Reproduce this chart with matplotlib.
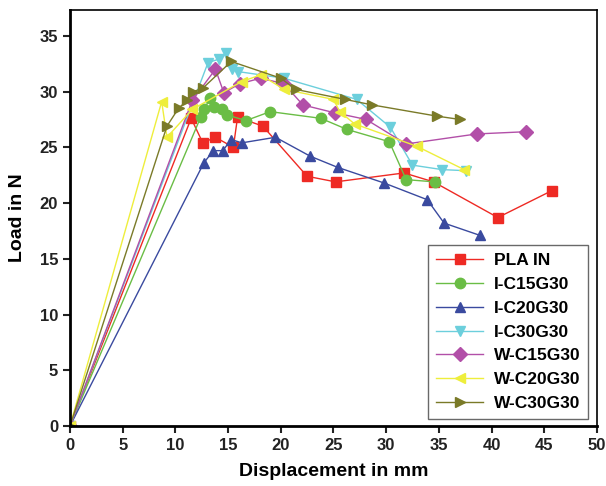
import matplotlib.pyplot as plt

plt.rcParams['font.family'] = ['Liberation Sans', 'DejaVu Sans']
plt.rcParams['font.weight'] = 'bold'

# (displacement mm, load N)
plain_x = [0, 11.5, 12.6, 13.8, 15.5, 15.9, 18.3, 22.5, 25.2, 31.7, 34.5, 40.6, 45.7]
plain_y = [0, 27.6, 25.4, 25.9, 25.0, 27.7, 26.9, 22.4, 21.9, 22.7, 21.9, 18.7, 21.1]

ic15_x = [0, 12.4, 12.7, 13.3, 13.7, 14.4, 14.9, 16.7, 19.0, 23.8, 26.3, 30.3, 31.9, 34.6]
ic15_y = [0, 27.7, 28.4, 29.4, 28.6, 28.4, 27.9, 27.4, 28.2, 27.6, 26.6, 25.5, 22.1, 21.9]

ic20_x = [0, 12.7, 13.6, 14.5, 15.3, 16.3, 19.5, 22.8, 25.4, 29.8, 33.9, 35.5, 38.9]
ic20_y = [0, 23.6, 24.7, 24.7, 25.7, 25.4, 25.9, 24.2, 23.2, 21.8, 20.3, 18.2, 17.1]

ic30_x = [0, 13.1, 14.1, 14.8, 15.4, 15.9, 20.3, 27.2, 30.4, 32.5, 35.3, 37.6]
ic30_y = [0, 32.6, 32.9, 33.5, 32.0, 31.8, 31.2, 29.3, 26.8, 23.4, 23.0, 22.9]

wc15_x = [0, 11.6, 13.8, 14.6, 16.1, 18.1, 20.3, 22.1, 25.1, 28.1, 31.9, 38.6, 43.3]
wc15_y = [0, 29.2, 32.0, 29.9, 30.7, 31.2, 30.7, 28.8, 28.1, 27.5, 25.3, 26.2, 26.4]

wc20_x = [0, 8.7, 9.2, 11.6, 16.3, 18.1, 20.3, 25.0, 25.6, 27.0, 32.9, 37.4]
wc20_y = [0, 29.1, 25.9, 28.4, 30.9, 31.5, 30.2, 29.3, 28.2, 27.1, 25.1, 23.0]

wc30_x = [0, 9.2, 10.3, 11.1, 11.7, 12.6, 15.3, 20.0, 21.4, 26.1, 28.7, 34.8, 37.0]
wc30_y = [0, 26.9, 28.5, 29.2, 30.0, 30.3, 32.7, 31.2, 30.2, 29.3, 28.8, 27.8, 27.5]

series = [
    (plain_x, plain_y, 'PLA IN', '#ee2a24', 's'),
    (ic15_x, ic15_y, 'I-C15G30', '#6abd45', 'o'),
    (ic20_x, ic20_y, 'I-C20G30', '#3a4a9f', '^'),
    (ic30_x, ic30_y, 'I-C30G30', '#6ccfdc', 'v'),
    (wc15_x, wc15_y, 'W-C15G30', '#b24fa8', 'D'),
    (wc20_x, wc20_y, 'W-C20G30', '#eeee3c', '<'),
    (wc30_x, wc30_y, 'W-C30G30', '#7a7a28', '>'),
]

fig = plt.figure(figsize=(6.06, 4.86), dpi=100)
ax = fig.add_axes([0.1155, 0.1235, 0.8695, 0.8555])

for x, y, lab, c, m in series:
    ax.plot(x, y, color=c, marker=m, markersize=7.5, linewidth=1.0, label=lab)

ax.set_xlim(0, 50)
ax.set_ylim(0, 37.3)
ax.set_xticks(range(0, 51, 5))
ax.set_yticks(range(0, 36, 5))
ax.tick_params(axis='both', direction='out', length=5, width=1.5, labelsize=12,
               top=False, right=False, colors='#222222')
for lbl in ax.get_xticklabels() + ax.get_yticklabels():
    lbl.set_fontweight('bold')
for s in ax.spines.values():
    s.set_linewidth(1.2)
ax.spines['left'].set_linewidth(2)
ax.spines['bottom'].set_linewidth(2)

ax.set_xlabel('Displacement in mm', fontsize=14, fontweight='bold', labelpad=7)
ax.set_ylabel('Load in N', fontsize=14, fontweight='bold', labelpad=10)

leg = ax.legend(loc='lower right', bbox_to_anchor=(0.983, 0.017), borderaxespad=0,
                fancybox=False, edgecolor='#444444', handlelength=2.7,
                labelspacing=0.5, borderpad=0.45, handletextpad=0.6,
                prop={'weight': 'bold', 'size': 12.5})
leg.get_frame().set_linewidth(1.0)

fig.savefig('out.png', dpi=100)
